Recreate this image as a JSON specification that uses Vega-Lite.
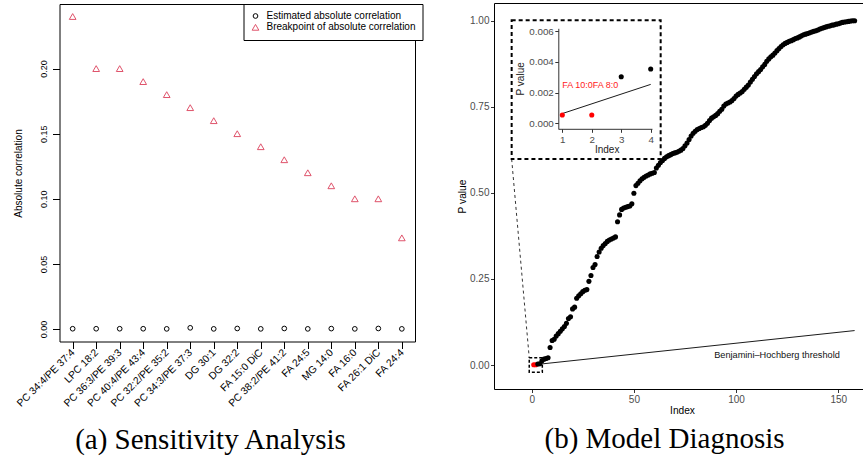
{
  "$schema": "https://vega.github.io/schema/vega-lite/v6.json",
  "width": 863,
  "height": 457,
  "padding": 0,
  "autosize": {"type": "none"},
  "background": "white",
  "datasets": {
    "sens": [
      {"lipid": "PC 34:4/PE 37:4", "series": "Estimated absolute correlation", "value": 0.0002},
      {"lipid": "LPC 18:2", "series": "Estimated absolute correlation", "value": 0.0002},
      {"lipid": "PC 36:3/PE 39:3", "series": "Estimated absolute correlation", "value": 0.0002},
      {"lipid": "PC 40:4/PE 43:4", "series": "Estimated absolute correlation", "value": 0.0002},
      {"lipid": "PC 32:2/PE 35:2", "series": "Estimated absolute correlation", "value": 0.0001},
      {"lipid": "PC 34:3/PE 37:3", "series": "Estimated absolute correlation", "value": 0.0009},
      {"lipid": "DG 30:1", "series": "Estimated absolute correlation", "value": 0.0001},
      {"lipid": "DG 32:2", "series": "Estimated absolute correlation", "value": 0.0004},
      {"lipid": "FA 15:0 DiC", "series": "Estimated absolute correlation", "value": 0.0001},
      {"lipid": "PC 38:2/PE 41:2", "series": "Estimated absolute correlation", "value": 0.0004},
      {"lipid": "FA 24:5", "series": "Estimated absolute correlation", "value": 0.0001},
      {"lipid": "MG 14:0", "series": "Estimated absolute correlation", "value": 0.0003},
      {"lipid": "FA 16:0", "series": "Estimated absolute correlation", "value": 0.0001},
      {"lipid": "FA 26:1 DiC", "series": "Estimated absolute correlation", "value": 0.0004},
      {"lipid": "FA 24:4", "series": "Estimated absolute correlation", "value": 0.0001},
      {"lipid": "PC 34:4/PE 37:4", "series": "Breakpoint of absolute correlation", "value": 0.24},
      {"lipid": "LPC 18:2", "series": "Breakpoint of absolute correlation", "value": 0.20},
      {"lipid": "PC 36:3/PE 39:3", "series": "Breakpoint of absolute correlation", "value": 0.20},
      {"lipid": "PC 40:4/PE 43:4", "series": "Breakpoint of absolute correlation", "value": 0.19},
      {"lipid": "PC 32:2/PE 35:2", "series": "Breakpoint of absolute correlation", "value": 0.18},
      {"lipid": "PC 34:3/PE 37:3", "series": "Breakpoint of absolute correlation", "value": 0.17},
      {"lipid": "DG 30:1", "series": "Breakpoint of absolute correlation", "value": 0.16},
      {"lipid": "DG 32:2", "series": "Breakpoint of absolute correlation", "value": 0.15},
      {"lipid": "FA 15:0 DiC", "series": "Breakpoint of absolute correlation", "value": 0.14},
      {"lipid": "PC 38:2/PE 41:2", "series": "Breakpoint of absolute correlation", "value": 0.13},
      {"lipid": "FA 24:5", "series": "Breakpoint of absolute correlation", "value": 0.12},
      {"lipid": "MG 14:0", "series": "Breakpoint of absolute correlation", "value": 0.11},
      {"lipid": "FA 16:0", "series": "Breakpoint of absolute correlation", "value": 0.10},
      {"lipid": "FA 26:1 DiC", "series": "Breakpoint of absolute correlation", "value": 0.10},
      {"lipid": "FA 24:4", "series": "Breakpoint of absolute correlation", "value": 0.07}
    ],
    "pv": [
      {"index": 1, "p": 0.00054, "sig": "yes"},
      {"index": 2, "p": 0.00054, "sig": "yes"},
      {"index": 3, "p": 0.00303, "sig": "no"},
      {"index": 4, "p": 0.00353, "sig": "no"},
      {"index": 5, "p": 0.012, "sig": "no"},
      {"index": 6, "p": 0.017, "sig": "no"},
      {"index": 7, "p": 0.019, "sig": "no"},
      {"index": 8, "p": 0.021, "sig": "no"},
      {"index": 9, "p": 0.051, "sig": "no"},
      {"index": 10, "p": 0.071, "sig": "no"},
      {"index": 11, "p": 0.075, "sig": "no"},
      {"index": 12, "p": 0.084, "sig": "no"},
      {"index": 13, "p": 0.091, "sig": "no"},
      {"index": 14, "p": 0.098, "sig": "no"},
      {"index": 15, "p": 0.105, "sig": "no"},
      {"index": 16, "p": 0.112, "sig": "no"},
      {"index": 17, "p": 0.121, "sig": "no"},
      {"index": 18, "p": 0.135, "sig": "no"},
      {"index": 19, "p": 0.140, "sig": "no"},
      {"index": 20, "p": 0.163, "sig": "no"},
      {"index": 21, "p": 0.168, "sig": "no"},
      {"index": 22, "p": 0.194, "sig": "no"},
      {"index": 23, "p": 0.201, "sig": "no"},
      {"index": 24, "p": 0.207, "sig": "no"},
      {"index": 25, "p": 0.213, "sig": "no"},
      {"index": 26, "p": 0.217, "sig": "no"},
      {"index": 27, "p": 0.219, "sig": "no"},
      {"index": 28, "p": 0.243, "sig": "no"},
      {"index": 29, "p": 0.260, "sig": "no"},
      {"index": 30, "p": 0.283, "sig": "no"},
      {"index": 31, "p": 0.292, "sig": "no"},
      {"index": 32, "p": 0.315, "sig": "no"},
      {"index": 33, "p": 0.328, "sig": "no"},
      {"index": 34, "p": 0.339, "sig": "no"},
      {"index": 35, "p": 0.347, "sig": "no"},
      {"index": 36, "p": 0.353, "sig": "no"},
      {"index": 37, "p": 0.359, "sig": "no"},
      {"index": 38, "p": 0.363, "sig": "no"},
      {"index": 39, "p": 0.366, "sig": "no"},
      {"index": 40, "p": 0.369, "sig": "no"},
      {"index": 41, "p": 0.372, "sig": "no"},
      {"index": 42, "p": 0.416, "sig": "no"},
      {"index": 43, "p": 0.436, "sig": "no"},
      {"index": 44, "p": 0.452, "sig": "no"},
      {"index": 45, "p": 0.456, "sig": "no"},
      {"index": 46, "p": 0.458, "sig": "no"},
      {"index": 47, "p": 0.460, "sig": "no"},
      {"index": 48, "p": 0.462, "sig": "no"},
      {"index": 49, "p": 0.468, "sig": "no"},
      {"index": 50, "p": 0.499, "sig": "no"},
      {"index": 51, "p": 0.521, "sig": "no"},
      {"index": 52, "p": 0.528, "sig": "no"},
      {"index": 53, "p": 0.535, "sig": "no"},
      {"index": 54, "p": 0.541, "sig": "no"},
      {"index": 55, "p": 0.545, "sig": "no"},
      {"index": 56, "p": 0.549, "sig": "no"},
      {"index": 57, "p": 0.552, "sig": "no"},
      {"index": 58, "p": 0.555, "sig": "no"},
      {"index": 59, "p": 0.557, "sig": "no"},
      {"index": 60, "p": 0.559, "sig": "no"},
      {"index": 61, "p": 0.572, "sig": "no"},
      {"index": 62, "p": 0.580, "sig": "no"},
      {"index": 63, "p": 0.588, "sig": "no"},
      {"index": 64, "p": 0.594, "sig": "no"},
      {"index": 65, "p": 0.600, "sig": "no"},
      {"index": 66, "p": 0.605, "sig": "no"},
      {"index": 67, "p": 0.608, "sig": "no"},
      {"index": 68, "p": 0.611, "sig": "no"},
      {"index": 69, "p": 0.614, "sig": "no"},
      {"index": 70, "p": 0.616, "sig": "no"},
      {"index": 71, "p": 0.618, "sig": "no"},
      {"index": 72, "p": 0.621, "sig": "no"},
      {"index": 73, "p": 0.624, "sig": "no"},
      {"index": 74, "p": 0.629, "sig": "no"},
      {"index": 75, "p": 0.637, "sig": "no"},
      {"index": 76, "p": 0.645, "sig": "no"},
      {"index": 77, "p": 0.655, "sig": "no"},
      {"index": 78, "p": 0.665, "sig": "no"},
      {"index": 79, "p": 0.673, "sig": "no"},
      {"index": 80, "p": 0.679, "sig": "no"},
      {"index": 81, "p": 0.684, "sig": "no"},
      {"index": 82, "p": 0.687, "sig": "no"},
      {"index": 83, "p": 0.690, "sig": "no"},
      {"index": 84, "p": 0.692, "sig": "no"},
      {"index": 85, "p": 0.696, "sig": "no"},
      {"index": 86, "p": 0.702, "sig": "no"},
      {"index": 87, "p": 0.710, "sig": "no"},
      {"index": 88, "p": 0.717, "sig": "no"},
      {"index": 89, "p": 0.721, "sig": "no"},
      {"index": 90, "p": 0.725, "sig": "no"},
      {"index": 91, "p": 0.730, "sig": "no"},
      {"index": 92, "p": 0.737, "sig": "no"},
      {"index": 93, "p": 0.743, "sig": "no"},
      {"index": 94, "p": 0.752, "sig": "no"},
      {"index": 95, "p": 0.758, "sig": "no"},
      {"index": 96, "p": 0.761, "sig": "no"},
      {"index": 97, "p": 0.764, "sig": "no"},
      {"index": 98, "p": 0.768, "sig": "no"},
      {"index": 99, "p": 0.774, "sig": "no"},
      {"index": 100, "p": 0.781, "sig": "no"},
      {"index": 101, "p": 0.786, "sig": "no"},
      {"index": 102, "p": 0.790, "sig": "no"},
      {"index": 103, "p": 0.794, "sig": "no"},
      {"index": 104, "p": 0.801, "sig": "no"},
      {"index": 105, "p": 0.807, "sig": "no"},
      {"index": 106, "p": 0.813, "sig": "no"},
      {"index": 107, "p": 0.822, "sig": "no"},
      {"index": 108, "p": 0.830, "sig": "no"},
      {"index": 109, "p": 0.838, "sig": "no"},
      {"index": 110, "p": 0.846, "sig": "no"},
      {"index": 111, "p": 0.852, "sig": "no"},
      {"index": 112, "p": 0.858, "sig": "no"},
      {"index": 113, "p": 0.866, "sig": "no"},
      {"index": 114, "p": 0.873, "sig": "no"},
      {"index": 115, "p": 0.882, "sig": "no"},
      {"index": 116, "p": 0.889, "sig": "no"},
      {"index": 117, "p": 0.895, "sig": "no"},
      {"index": 118, "p": 0.900, "sig": "no"},
      {"index": 119, "p": 0.906, "sig": "no"},
      {"index": 120, "p": 0.913, "sig": "no"},
      {"index": 121, "p": 0.919, "sig": "no"},
      {"index": 122, "p": 0.925, "sig": "no"},
      {"index": 123, "p": 0.930, "sig": "no"},
      {"index": 124, "p": 0.934, "sig": "no"},
      {"index": 125, "p": 0.937, "sig": "no"},
      {"index": 126, "p": 0.940, "sig": "no"},
      {"index": 127, "p": 0.942, "sig": "no"},
      {"index": 128, "p": 0.945, "sig": "no"},
      {"index": 129, "p": 0.948, "sig": "no"},
      {"index": 130, "p": 0.950, "sig": "no"},
      {"index": 131, "p": 0.953, "sig": "no"},
      {"index": 132, "p": 0.956, "sig": "no"},
      {"index": 133, "p": 0.959, "sig": "no"},
      {"index": 134, "p": 0.961, "sig": "no"},
      {"index": 135, "p": 0.963, "sig": "no"},
      {"index": 136, "p": 0.965, "sig": "no"},
      {"index": 137, "p": 0.967, "sig": "no"},
      {"index": 138, "p": 0.969, "sig": "no"},
      {"index": 139, "p": 0.971, "sig": "no"},
      {"index": 140, "p": 0.973, "sig": "no"},
      {"index": 141, "p": 0.976, "sig": "no"},
      {"index": 142, "p": 0.978, "sig": "no"},
      {"index": 143, "p": 0.980, "sig": "no"},
      {"index": 144, "p": 0.982, "sig": "no"},
      {"index": 145, "p": 0.984, "sig": "no"},
      {"index": 146, "p": 0.985, "sig": "no"},
      {"index": 147, "p": 0.987, "sig": "no"},
      {"index": 148, "p": 0.988, "sig": "no"},
      {"index": 149, "p": 0.990, "sig": "no"},
      {"index": 150, "p": 0.991, "sig": "no"},
      {"index": 151, "p": 0.993, "sig": "no"},
      {"index": 152, "p": 0.995, "sig": "no"},
      {"index": 153, "p": 0.996, "sig": "no"},
      {"index": 154, "p": 0.997, "sig": "no"},
      {"index": 155, "p": 0.998, "sig": "no"},
      {"index": 156, "p": 0.999, "sig": "no"},
      {"index": 157, "p": 1.000, "sig": "no"},
      {"index": 158, "p": 1.000, "sig": "no"}
    ],
    "bh": [
      {"index": 1, "p": 0.000633},
      {"index": 4, "p": 0.00253},
      {"index": 158, "p": 0.1}
    ]
  },
  "layer": [
    {
      "data": {"name": "sens"},
      "mark": {"type": "point", "filled": false, "strokeWidth": 1, "opacity": 1},
      "encoding": {
        "x": {
          "field": "lipid", "type": "nominal", "sort": null,
          "scale": {"type": "point", "range": [59.5, 415], "padding": 0.56},
          "axis": {
            "orient": "bottom", "offset": -115.5, "labelAngle": -45, "labelAlign": "right", "labelBaseline": "middle",
            "labelFontSize": 10.3, "labelColor": "black", "tickSize": 7, "labelPadding": 2, "labelLimit": 0,
            "title": "(a) Sensitivity Analysis", "titleFont": "Liberation Serif", "titleFontSize": 29,
            "titleColor": "black", "titleX": 210, "titleY": 106.5, "titleAlign": "center", "titleBaseline": "alphabetic", "titleAngle": 0
          }
        },
        "y": {
          "field": "value", "type": "quantitative",
          "scale": {"domain": [-0.0096, 0.2496], "range": [341.5, 4], "nice": false, "zero": false},
          "axis": {
            "orient": "left", "offset": -59.5, "values": [0, 0.05, 0.1, 0.15, 0.2], "format": ".2f",
            "labelAngle": 270, "labelAlign": "center", "labelBaseline": "bottom", "labelFontSize": 9, "labelColor": "black",
            "labelPadding": 4, "tickSize": 7,
            "title": "Absolute correlation", "titleFontSize": 10, "titleColor": "black", "titleX": -41, "titleY": 173,
            "titleAngle": 270, "titleAlign": "center", "titleBaseline": "middle"
          }
        },
        "shape": {
          "field": "series", "type": "nominal",
          "scale": {"domain": ["Estimated absolute correlation", "Breakpoint of absolute correlation"], "range": ["circle", "triangle-up"]},
          "legend": {"orient": "none", "legendX": 243.5, "legendY": 4, "title": null, "strokeColor": "black", "fillColor": "white", "padding": 7, "labelFontSize": 10, "labelColor": "black", "symbolSize": 30, "symbolStrokeWidth": 1, "rowPadding": 1.3, "labelOffset": 6, "labelLimit": 0}
        },
        "color": {
          "field": "series", "type": "nominal",
          "scale": {"domain": ["Estimated absolute correlation", "Breakpoint of absolute correlation"], "range": ["black", "#DF536B"]},
          "legend": {"orient": "none", "legendX": 243.5, "legendY": 4, "title": null, "strokeColor": "black", "fillColor": "white", "padding": 7, "labelFontSize": 10, "labelColor": "black", "symbolSize": 30, "symbolStrokeWidth": 1, "rowPadding": 1.3, "labelOffset": 6, "labelLimit": 0}
        },
        "size": {
          "field": "series", "type": "nominal",
          "scale": {"domain": ["Estimated absolute correlation", "Breakpoint of absolute correlation"], "range": [22, 45]},
          "legend": null
        }
      }
    },
    {
      "data": {"name": "sens"},
      "mark": {"type": "point", "opacity": 0},
      "encoding": {
        "x": {
          "field": "lipid", "type": "nominal", "sort": null,
          "scale": {"type": "point", "range": [59.5, 415], "padding": 0.56},
          "axis": {"orient": "top", "offset": -4, "labels": false, "ticks": false, "title": null}
        },
        "y": {
          "field": "value", "type": "quantitative",
          "scale": {"domain": [-0.0096, 0.2496], "range": [341.5, 4], "nice": false, "zero": false},
          "axis": {"orient": "right", "offset": -448, "labels": false, "ticks": false, "title": null}
        }
      }
    },
    {
      "data": {"name": "bh"},
      "mark": {"type": "line", "color": "black", "strokeWidth": 0.9},
      "encoding": {
        "x": {
          "field": "index", "type": "quantitative",
          "scale": {"domain": [-18.44, 162.09], "range": [494, 863], "nice": false, "zero": false},
          "axis": {
            "orient": "bottom", "offset": -68, "values": [0, 50, 100, 150], "labelFontSize": 10, "labelColor": "#4D4D4D",
            "tickColor": "#333333", "tickSize": 3.5, "labelPadding": 2,
            "title": "Index", "titleFontSize": 10.2, "titleColor": "black", "titleX": 682, "titleY": 21,
            "titleAlign": "center", "titleBaseline": "middle"
          }
        },
        "y": {
          "field": "p", "type": "quantitative",
          "scale": {"domain": [-0.0697, 1.0514], "range": [389, 3], "nice": false, "zero": false},
          "axis": {
            "orient": "left", "offset": -494, "values": [0, 0.25, 0.5, 0.75, 1], "format": ".2f",
            "labelFontSize": 10, "labelColor": "#4D4D4D", "tickColor": "#333333", "tickSize": 3.5, "labelPadding": 1.5,
            "title": "P value", "titleFontSize": 10.2, "titleColor": "black", "titleX": -31.7, "titleY": 196,
            "titleAngle": 270, "titleAlign": "center", "titleBaseline": "middle"
          }
        }
      }
    },
    {
      "data": {"name": "pv"},
      "mark": {"type": "circle", "size": 26, "opacity": 1},
      "encoding": {
        "x": {"field": "index", "type": "quantitative", "scale": {"domain": [-18.44, 162.09], "range": [494, 863], "nice": false, "zero": false}, "axis": null},
        "y": {"field": "p", "type": "quantitative", "scale": {"domain": [-0.0697, 1.0514], "range": [389, 3], "nice": false, "zero": false}, "axis": null},
        "color": {"field": "sig", "type": "nominal", "scale": {"domain": ["yes", "no"], "range": ["#FF0000", "black"]}, "legend": null}
      }
    },
    {
      "data": {"values": [{"index": 120, "p": 0.03, "label": "Benjamini–Hochberg threshold"}]},
      "mark": {"type": "text", "fontSize": 9.2, "align": "center", "baseline": "middle", "color": "#111111"},
      "encoding": {
        "x": {"field": "index", "type": "quantitative", "scale": {"domain": [-18.44, 162.09], "range": [494, 863], "nice": false, "zero": false}, "axis": null},
        "y": {"field": "p", "type": "quantitative", "scale": {"domain": [-0.0697, 1.0514], "range": [389, 3], "nice": false, "zero": false}, "axis": null},
        "text": {"field": "label"}
      }
    },
    {
      "data": {"values": [{"x1": -1.2, "x2": 5.2, "y1": -0.021, "y2": 0.021}]},
      "mark": {"type": "rect", "fill": null, "fillOpacity": 0, "stroke": "black", "strokeWidth": 1.5, "strokeDash": [3, 2]},
      "encoding": {
        "x": {
          "field": "x1", "type": "quantitative", "scale": {"domain": [-18.44, 162.09], "range": [494, 863], "nice": false, "zero": false},
          "axis": {"orient": "top", "offset": -3, "labels": false, "ticks": false,
            "title": "(b) Model Diagnosis", "titleFont": "Liberation Serif", "titleFontSize": 29, "titleColor": "black",
            "titleX": 664, "titleY": 444.5, "titleAlign": "center", "titleBaseline": "alphabetic", "titleAngle": 0}
        },
        "x2": {"field": "x2"},
        "y": {"field": "y1", "type": "quantitative", "scale": {"domain": [-0.0697, 1.0514], "range": [389, 3], "nice": false, "zero": false}, "axis": null},
        "y2": {"field": "y2"}
      }
    },
    {
      "data": {"values": [{"index": -9.8, "p": 0.598}, {"index": -1.2, "p": 0.021}]},
      "mark": {"type": "line", "color": "black", "strokeWidth": 0.8, "strokeDash": [3, 3]},
      "encoding": {
        "x": {"field": "index", "type": "quantitative", "scale": {"domain": [-18.44, 162.09], "range": [494, 863], "nice": false, "zero": false}, "axis": null},
        "y": {"field": "p", "type": "quantitative", "scale": {"domain": [-0.0697, 1.0514], "range": [389, 3], "nice": false, "zero": false}, "axis": null}
      }
    },
    {
      "data": {"values": [{"x1": -9.8, "x2": 63.1, "y1": 0.598, "y2": 1.001}]},
      "mark": {"type": "rect", "fill": "white", "stroke": "black", "strokeWidth": 2, "strokeDash": [4, 3]},
      "encoding": {
        "x": {"field": "x1", "type": "quantitative", "scale": {"domain": [-18.44, 162.09], "range": [494, 863], "nice": false, "zero": false}, "axis": null},
        "x2": {"field": "x2"},
        "y": {"field": "y1", "type": "quantitative", "scale": {"domain": [-0.0697, 1.0514], "range": [389, 3], "nice": false, "zero": false}, "axis": null},
        "y2": {"field": "y2"}
      }
    },
    {
      "data": {"name": "bh"},
      "transform": [{"filter": "datum.index <= 4"}],
      "mark": {"type": "line", "color": "black", "strokeWidth": 0.9},
      "encoding": {
        "x": {
          "field": "index", "type": "quantitative",
          "scale": {"domain": [0.864, 4.044], "range": [558.3, 652], "nice": false, "zero": false},
          "axis": {
            "orient": "bottom", "offset": -328.2, "values": [1, 2, 3, 4], "labelFontSize": 9.8, "labelColor": "#4D4D4D",
            "tickColor": "#333333", "domainColor": "#333333", "tickSize": 3.5, "labelPadding": 2, "zindex": 1,
            "title": "Index", "titleFontSize": 10, "titleColor": "#222222", "titleX": 606.7, "titleY": 20.2,
            "titleAlign": "center", "titleBaseline": "middle"
          }
        },
        "y": {
          "field": "p", "type": "quantitative",
          "scale": {"domain": [-0.00037, 0.006176], "range": [129, 28.3], "nice": false, "zero": false},
          "axis": {
            "orient": "left", "offset": -558.3, "values": [0, 0.002, 0.004, 0.006], "format": ".3f",
            "labelFontSize": 9.8, "labelColor": "#4D4D4D", "tickColor": "#333333", "domainColor": "#333333", "tickSize": 3.5,
            "labelPadding": 1.5, "zindex": 1,
            "title": "P value", "titleFontSize": 10, "titleColor": "#222222", "titleX": -38.3, "titleY": 78.3,
            "titleAngle": 270, "titleAlign": "center", "titleBaseline": "middle"
          }
        }
      }
    },
    {
      "data": {"name": "pv"},
      "transform": [{"filter": "datum.index <= 4"}],
      "mark": {"type": "circle", "size": 26, "opacity": 1},
      "encoding": {
        "x": {"field": "index", "type": "quantitative", "scale": {"domain": [0.864, 4.044], "range": [558.3, 652], "nice": false, "zero": false}, "axis": null},
        "y": {"field": "p", "type": "quantitative", "scale": {"domain": [-0.00037, 0.006176], "range": [129, 28.3], "nice": false, "zero": false}, "axis": null},
        "color": {"field": "sig", "type": "nominal", "scale": {"domain": ["yes", "no"], "range": ["#FF0000", "black"]}, "legend": null}
      }
    },
    {
      "data": {"values": [{"index": 1, "p": 0.0025, "label": "FA 10:0FA 8:0"}]},
      "mark": {"type": "text", "fontSize": 9, "align": "left", "baseline": "middle", "color": "#FF1A1A"},
      "encoding": {
        "x": {"field": "index", "type": "quantitative", "scale": {"domain": [0.864, 4.044], "range": [558.3, 652], "nice": false, "zero": false}, "axis": null},
        "y": {"field": "p", "type": "quantitative", "scale": {"domain": [-0.00037, 0.006176], "range": [129, 28.3], "nice": false, "zero": false}, "axis": null},
        "text": {"field": "label"}
      }
    }
  ],
  "resolve": {"scale": {"x": "independent", "y": "independent", "color": "independent", "shape": "independent", "size": "independent"}},
  "config": {
    "view": {"stroke": null},
    "font": "Liberation Sans",
    "axis": {"grid": false, "domainColor": "black", "tickColor": "black", "labelFont": "Liberation Sans", "titleFont": "Liberation Sans", "titleFontWeight": "normal", "labelFlush": false, "labelOverlap": false},
    "legend": {"labelFont": "Liberation Sans"},
    "text": {"font": "Liberation Sans"}
  }
}
